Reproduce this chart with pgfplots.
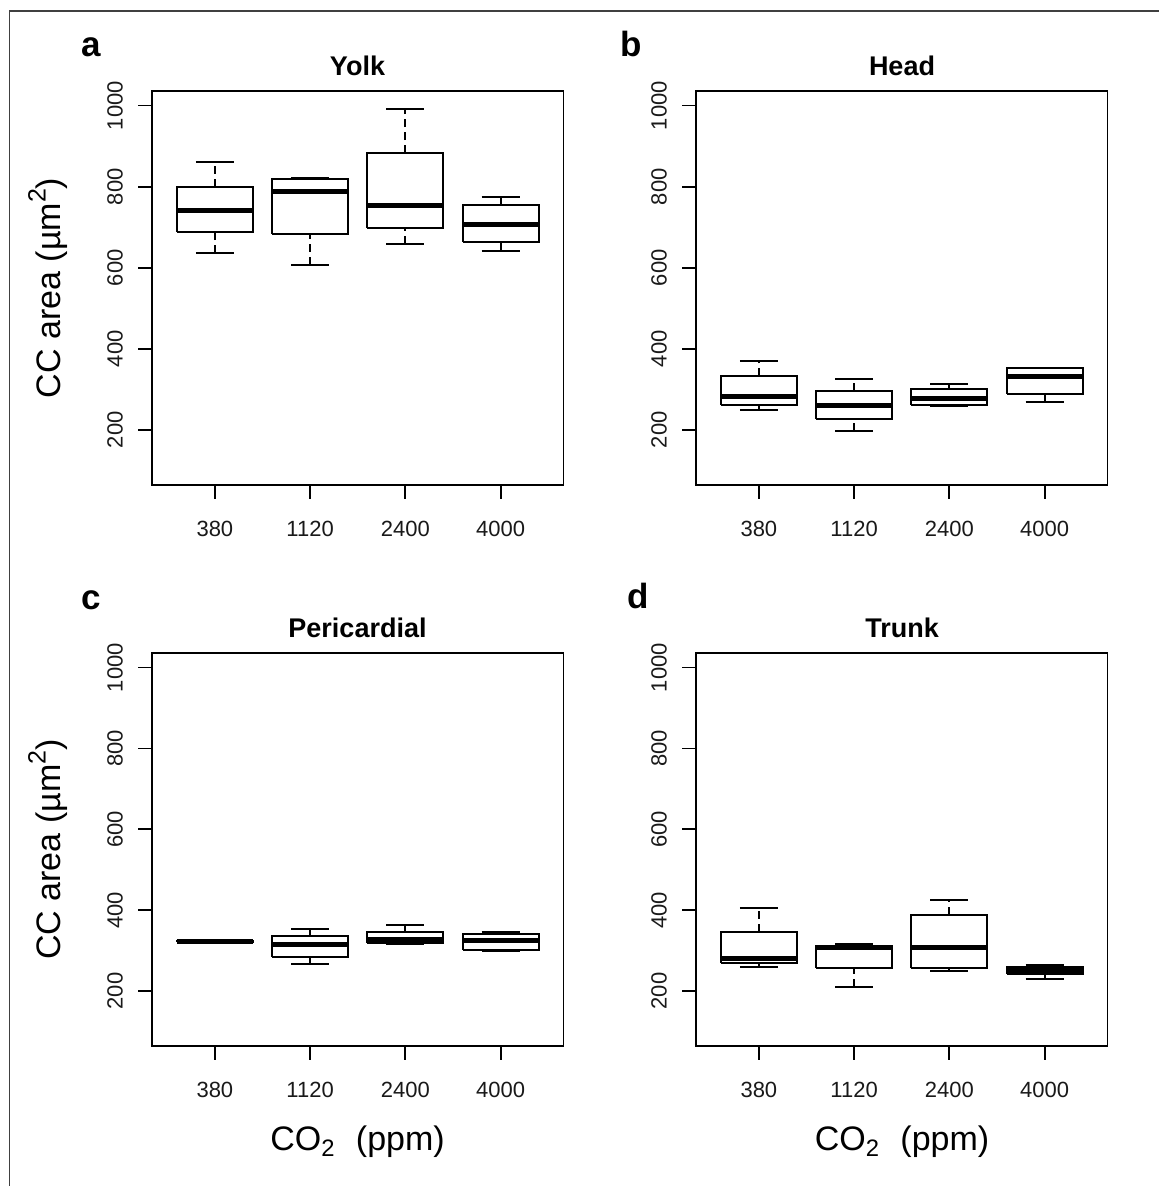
\documentclass[border=0pt]{standalone}
\usepackage{pgfplots}
\pgfplotsset{compat=1.18}
\usepackage{fontspec}
\setmainfont{Liberation Sans}

% one box: #1 position, #2 lower whisker, #3 lower quartile, #4 median, #5 upper quartile, #6 upper whisker
\newcommand{\bx}[6]{%
  \pgfmathsetmacro{\xl}{#1-0.4}\pgfmathsetmacro{\xr}{#1+0.4}%
  \pgfmathsetmacro{\cl}{#1-0.2}\pgfmathsetmacro{\cr}{#1+0.2}%
  \edef\temp{%
    \noexpand\addplot[stem] coordinates {(#1,#2) (#1,#3)};
    \noexpand\addplot[stem] coordinates {(#1,#5) (#1,#6)};
    \noexpand\addplot[cap] coordinates {(\cl,#2) (\cr,#2)};
    \noexpand\addplot[cap] coordinates {(\cl,#6) (\cr,#6)};
    \noexpand\addplot[boxs] coordinates {(\xl,#3) (\xr,#3) (\xr,#5) (\xl,#5) (\xl,#3)};
    \noexpand\addplot[med] coordinates {(\xl,#4) (\xr,#4)};
  }\temp
}

\newcommand{\ylab}{CC area (µm\raisebox{0.45em}{\fontsize{12.5}{14}\selectfont 2})}

\pgfplotsset{
  stem/.style={black, line width=1pt, dash pattern=on 4pt off 2.5pt, mark=none},
  cap/.style={black, line width=1pt, mark=none},
  boxs/.style={black, line width=1pt, fill=white, mark=none, line join=miter},
  med/.style={black, line width=2.5pt, mark=none, line cap=butt},
  panel/.style={
    scale only axis,
    width=205.75pt, height=197pt,
    anchor=south west,
    xmin=0.34, xmax=4.66, ymin=64, ymax=1036,
    xtick={1,2,3,4}, xticklabels={380,1120,2400,4000},
    ytick={200,400,600,800,1000}, yticklabels={200,400,600,800,1000},
    tick pos=left,
    tick align=outside, major tick length=7pt,
    axis line style={line width=0.9pt},
    every tick/.style={line width=0.9pt, black},
    tick label style={font=\fontsize{11}{13}\selectfont, text=black!90},
    xticklabel style={yshift=-7.5pt},
    yticklabel style={xshift=-4pt, rotate=90, anchor=south},
  }
}

\begin{document}
\begin{tikzpicture}
\useasboundingbox (0,0) rectangle (579.5pt,593pt);
\draw[line width=0.65pt, black!75] (4.75pt,0pt) -- (4.75pt,587.5pt) -- (580pt,587.5pt);

% a: Yolk
\begin{axis}[panel, at={(76pt,350.5pt)}]
\bx{1}{636}{688}{740}{800}{862}
\bx{2}{607}{684}{788}{819}{821}
\bx{3}{659}{698}{754}{883}{991}
\bx{4}{641}{663}{706}{754}{775}
\end{axis}

% b: Head
\begin{axis}[panel, at={(348pt,350.5pt)}]
\bx{1}{248}{261}{283}{332}{369}
\bx{2}{197}{226}{261}{296}{326}
\bx{3}{258}{261}{278}{300}{313}
\bx{4}{269}{288}{331}{352}{353}
\end{axis}

% c: Pericardial
\begin{axis}[panel, at={(76pt,70pt)}, height=196.5pt]
\bx{1}{320}{321}{322}{323}{324}
\bx{2}{268}{285}{315}{337}{354}
\bx{3}{316}{319}{328}{346}{363}
\bx{4}{298}{302}{324}{342}{345}
\end{axis}

% d: Trunk
\begin{axis}[panel, at={(348pt,70pt)}, height=196.5pt]
\bx{1}{259}{269}{280}{346}{406}
\bx{2}{211}{258}{307}{312}{316}
\bx{3}{250}{258}{307}{389}{424}
\bx{4}{230}{241}{251}{260}{265}
\end{axis}

% panel letters
\node[font=\fontsize{17.5}{20}\selectfont\bfseries, anchor=base] at (45.5pt,564.5pt) {a};
\node[font=\fontsize{17.5}{20}\selectfont\bfseries, anchor=base] at (315.5pt,564.5pt) {b};
\node[font=\fontsize{17.5}{20}\selectfont\bfseries, anchor=base] at (45.5pt,288pt) {c};
\node[font=\fontsize{17.5}{20}\selectfont\bfseries, anchor=base] at (319pt,288.5pt) {d};

% titles
\node[font=\fontsize{13.5}{15}\selectfont\bfseries, anchor=base] at (178.75pt,555pt) {Yolk};
\node[font=\fontsize{13.5}{15}\selectfont\bfseries, anchor=base] at (451pt,555pt) {Head};
\node[font=\fontsize{13.5}{15}\selectfont\bfseries, anchor=base] at (178.75pt,274pt) {Pericardial};
\node[font=\fontsize{13.5}{15}\selectfont\bfseries, anchor=base] at (451pt,274pt) {Trunk};

% y labels
\node[font=\fontsize{17}{20}\selectfont, rotate=90] at (24pt,449pt) {\ylab};
\node[font=\fontsize{17}{20}\selectfont, rotate=90] at (24pt,168.25pt) {\ylab};

% x labels
\node[font=\fontsize{17}{20}\selectfont, anchor=base] at (178.75pt,17.5pt) {CO\textsubscript{2}\hspace{0.6em}(ppm)};
\node[font=\fontsize{17}{20}\selectfont, anchor=base] at (451pt,17.5pt) {CO\textsubscript{2}\hspace{0.6em}(ppm)};
\end{tikzpicture}
\end{document}
